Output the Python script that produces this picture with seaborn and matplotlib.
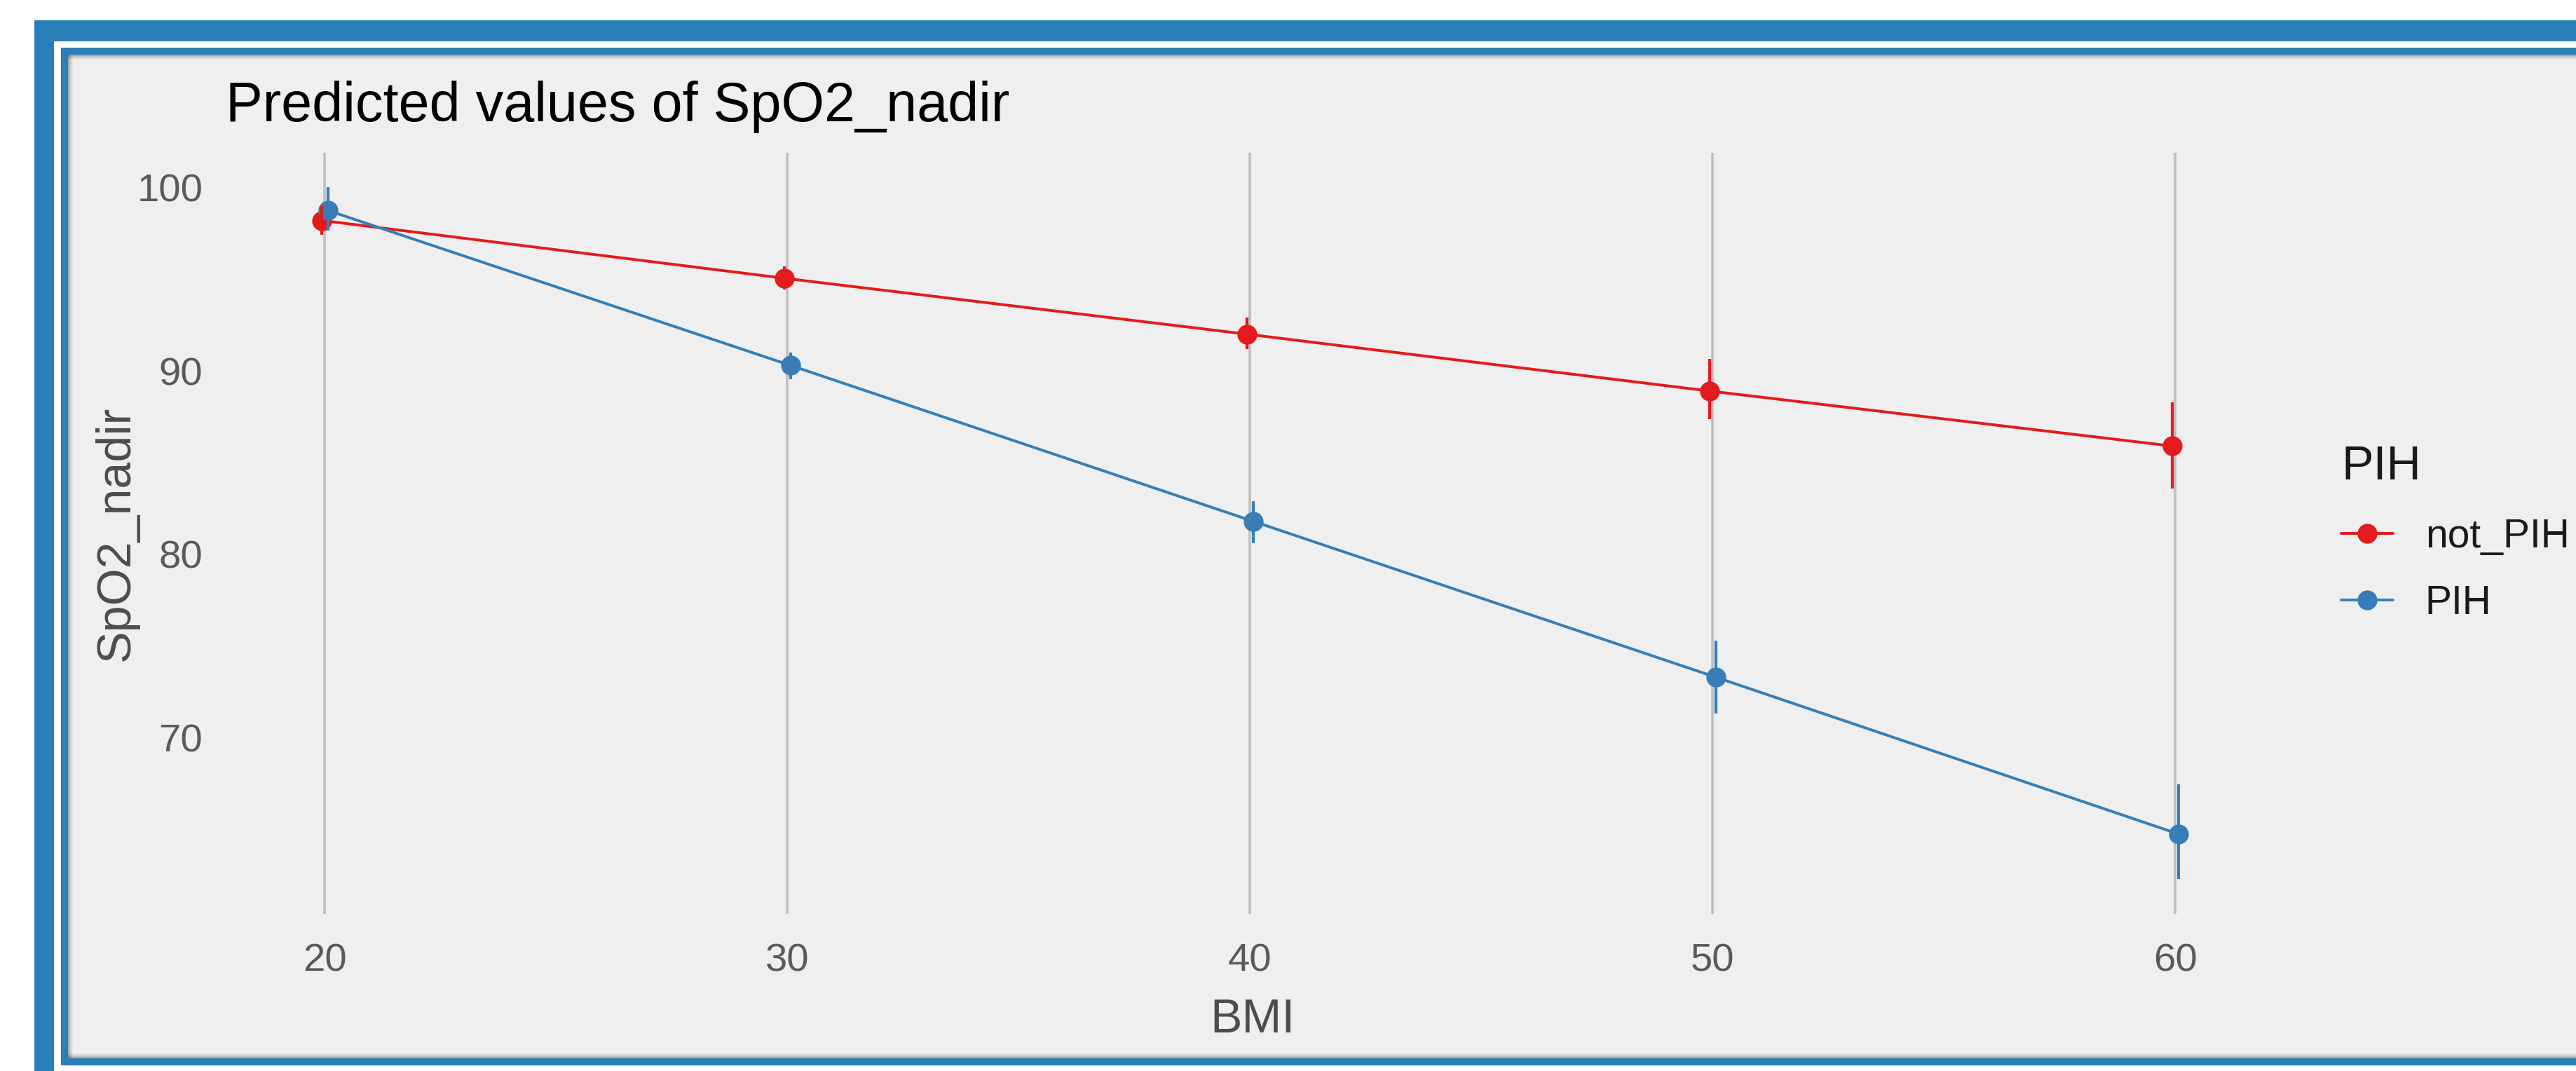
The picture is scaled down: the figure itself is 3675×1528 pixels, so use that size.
import numpy as np
import pandas as pd
import seaborn as sns
import matplotlib
matplotlib.use("Agg")
import matplotlib.pyplot as plt
from matplotlib.patches import Rectangle
from matplotlib.lines import Line2D

# ---------------- data ----------------
bmi = [20, 30, 40, 50, 60]
groups = ["not_PIH", "PIH"]
not_pih_pred = [98.2, 95.05, 92.0, 88.9, 85.9]
not_pih_low = [97.4, 94.45, 91.2, 87.35, 83.6]
not_pih_high = [99.0, 95.7, 92.9, 90.65, 88.3]
pih_pred = [98.75, 90.3, 81.8, 73.3, 64.75]
pih_low = [97.65, 89.55, 80.6, 71.3, 62.3]
pih_high = [100.0, 91.0, 82.9, 75.3, 67.45]
x_ticks = [20, 30, 40, 50, 60]
y_ticks = [70, 80, 90, 100]

colors = {"not_PIH": "#E41A1C", "PIH": "#377EB8"}
dodge = {"not_PIH": -0.06, "PIH": 0.07}

rows = []
for g, pred, lo, hi in [("not_PIH", not_pih_pred, not_pih_low, not_pih_high),
                        ("PIH", pih_pred, pih_low, pih_high)]:
    for b, p, l, h in zip(bmi, pred, lo, hi):
        rows.append({"BMI": b, "xpos": b + dodge[g], "PIH": g,
                     "SpO2_nadir": p, "low": l, "high": h})
df = pd.DataFrame(rows)

# ---------------- figure ----------------
W, H, DPI = 3675, 1528, 300
sns.set_theme(style="white")
plt.rcParams["font.family"] = ["Liberation Sans", "DejaVu Sans"]

fig = plt.figure(figsize=(W / DPI, H / DPI), dpi=DPI, facecolor="white")

def frect(x0, y0, x1, y1, **kw):
    """rectangle in pixel coords (origin top-left) on the figure"""
    fig.patches.append(Rectangle((x0 / W, 1 - y1 / H), (x1 - x0) / W, (y1 - y0) / H,
                                 transform=fig.transFigure, figure=fig, **kw))

frame_blue = "#2A7FB8"
frect(49, 29, W + 5, H + 5, facecolor=frame_blue, edgecolor="none", zorder=0)
frect(77, 59, W + 5, H + 5, facecolor="white", edgecolor="none", zorder=0.1)
frect(87, 68, W + 5, 1520, facecolor=frame_blue, edgecolor="none", zorder=0.2)
frect(97, 78, W + 5, 1510, facecolor="#EFEFEF", edgecolor="none", zorder=0.3)
# inner shadow
for i in range(8):
    a = 0.32 * (1 - i / 8) ** 1.6
    frect(97, 78 + i, W + 5, 79 + i, facecolor="black", alpha=a, edgecolor="none", zorder=0.4)
    frect(97 + i, 78, 98 + i, 1510, facecolor="black", alpha=a, edgecolor="none", zorder=0.4)
    frect(97, 1509 - i, W + 5, 1510 - i, facecolor="black", alpha=a, edgecolor="none", zorder=0.4)

# axes placement (pixels)
ax_l, ax_r, ax_t, ax_b = 331, 3242, 218, 1304
ax = fig.add_axes([ax_l / W, 1 - ax_b / H, (ax_r - ax_l) / W, (ax_b - ax_t) / H])
ax.set_zorder(2)
ax.set_facecolor("none")

sns.lineplot(data=df, x="xpos", y="SpO2_nadir", hue="PIH", palette=colors,
             hue_order=groups, marker="o", markersize=6.8, markeredgewidth=0,
             linewidth=0.95, ax=ax, legend=False, zorder=3)

for g in groups:
    sub = df[df["PIH"] == g]
    ax.vlines(sub["xpos"], sub["low"], sub["high"], colors=colors[g],
              linewidth=1.0, zorder=3)

ax.set_xlim(18, 62.1)
ax.set_ylim(60.39, 101.89)
ax.set_xticks(x_ticks)
ax.set_yticks(y_ticks)
ax.xaxis.grid(True, color="#BEBEBE", linewidth=0.85)
ax.yaxis.grid(False)
ax.set_axisbelow(True)
for s in ax.spines.values():
    s.set_visible(False)
ax.tick_params(axis="both", length=0, labelsize=13.5, labelcolor="#5A5A5A", pad=10)

ax.set_xlabel("BMI", fontsize=16.4, color="#4D4D4D", labelpad=6)
ax.set_ylabel("SpO2_nadir", fontsize=16.4, color="#4D4D4D")
ax.yaxis.set_label_coords((198 - ax_l) / (ax_r - ax_l), 0.5)

ax.set_title("Predicted values of SpO2_nadir", loc="left", fontsize=19.0,
             color="black", pad=0, y=1 + (218 - 173) / (ax_b - ax_t),
             va="baseline", x=-0.003)

handles = [Line2D([0], [0], color=colors[g], marker="o", markersize=6.8,
                  markeredgewidth=0, linewidth=0.95) for g in groups]
leg = fig.legend(handles, groups, title="PIH", loc="upper left",
                 bbox_to_anchor=(3340 / W, 1 - 634 / H), frameon=False,
                 fontsize=13.7, title_fontsize=16.4, handlelength=1.3,
                 handletextpad=0.8, labelspacing=0.72, borderpad=0,
                 borderaxespad=0, alignment="left")
leg.set_zorder(5)
for t in leg.get_texts():
    t.set_color("#1A1A1A")
leg.get_title().set_color("#1A1A1A")

fig.savefig("out.png", dpi=DPI, facecolor="white")
